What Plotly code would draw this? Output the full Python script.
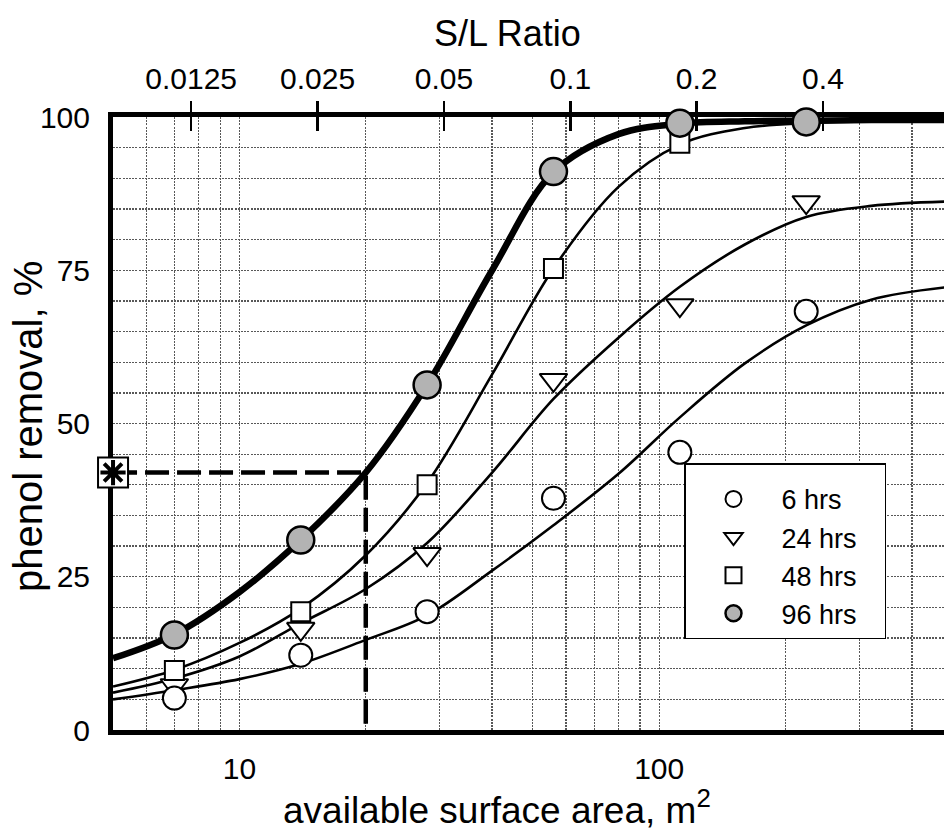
import math
import plotly.graph_objects as go

# ---------------- data ----------------
# available surface area (m^2) at which samples were taken
AREA_POINTS = [7, 14, 28, 56, 112, 224]
AREA_POINTS_48 = [7, 14, 28, 56, 112]

removal_6h = [5.2, 12.2, 19.3, 37.8, 45.3, 68.3]
removal_24h = [7.3, 16.5, 28.7, 57.1, 69.3, 86.1]
removal_48h = [9.7, 19.3, 40.0, 75.3, 95.7]
removal_96h = [15.5, 31.0, 56.3, 91.1, 99.0, 99.2]

# fitted curves
CURVE_AREA = [5, 7, 10, 14, 20, 28, 40, 56, 80, 112, 160, 224, 320, 480]
curve_6h = [5.0, 6.5, 8.3, 10.8, 14.7, 18.7, 26.0, 33.4, 41.8, 51.0, 59.8, 66.0, 70.2, 72.2]
curve_24h = [6.1, 8.4, 12.0, 17.4, 23.0, 30.5, 42.0, 54.0, 64.0, 72.3, 79.2, 83.7, 85.5, 86.2]
curve_48h = [7.1, 9.8, 14.2, 19.8, 28.5, 40.3, 58.0, 75.3, 88.6, 95.5, 98.2, 99.0, 99.3, 99.4]
curve_96h = [11.7, 15.6, 22.5, 31.0, 42.0, 56.3, 75.0, 91.0, 97.2, 98.9, 99.3, 99.4, 99.5, 99.5]

# design point (dashed guide)
TARGET_AREA = 20
TARGET_REMOVAL = 42

# axes
AREA_MIN, AREA_MAX = 5, 477
SL_PER_AREA = 1 / 614.0
SL_TICKS = [0.0125, 0.025, 0.05, 0.1, 0.2, 0.4]
SL_TICK_TEXT = ["0.0125", "0.025", "0.05", "0.1", "0.2", "0.4"]
X_GRID = [6, 7, 8, 9, 10, 20, 30, 40, 50, 60, 70, 80, 90, 100, 200, 300, 400]
X_LABELS = {10: "10", 100: "100"}
Y_TICKS = list(range(0, 101, 5))
Y_LABELS = {0: "0", 25: "25", 50: "50", 75: "75", 100: "100"}

LEGEND_NAMES = ["6 hrs", "24 hrs", "48 hrs", "96 hrs"]

FONT = "Liberation Sans, Arial, Helvetica, sans-serif"
GRID_COLOR = "#585858"
GRID_DASH = "2px,1.2px"
GRAY_FILL = "#b3b3b3"
PAD = "\u00a0\u00a0\u00a0"

fig = go.Figure()

# dashed guide line
fig.add_trace(go.Scatter(
    x=[AREA_MIN, TARGET_AREA, TARGET_AREA], y=[TARGET_REMOVAL, TARGET_REMOVAL, 0],
    mode="lines", line=dict(color="black", width=4.5, dash="24px,8px"),
    showlegend=False, hoverinfo="skip"))

# fitted curves
for ys, w in [(curve_6h, 2.6), (curve_24h, 2.6), (curve_48h, 2.6), (curve_96h, 6.5)]:
    fig.add_trace(go.Scatter(
        x=CURVE_AREA, y=ys, mode="lines",
        line=dict(color="black", width=w, shape="spline", smoothing=1.0),
        showlegend=False, hoverinfo="skip"))

# markers (drawing order: triangles, open circles, squares, gray circles)
fig.add_trace(go.Scatter(
    x=AREA_POINTS, y=removal_24h, mode="markers", name=LEGEND_NAMES[1] + PAD, legendrank=2,
    marker=dict(symbol="triangle-down", size=24, color="white",
                line=dict(color="black", width=2)), cliponaxis=False))
fig.add_trace(go.Scatter(
    x=AREA_POINTS, y=removal_6h, mode="markers", name=LEGEND_NAMES[0] + PAD, legendrank=1,
    marker=dict(symbol="circle", size=23, color="white",
                line=dict(color="black", width=2)), cliponaxis=False))
fig.add_trace(go.Scatter(
    x=AREA_POINTS_48, y=removal_48h, mode="markers", name=LEGEND_NAMES[2] + PAD, legendrank=3,
    marker=dict(symbol="square", size=19, color="white",
                line=dict(color="black", width=2)), cliponaxis=False))
fig.add_trace(go.Scatter(
    x=AREA_POINTS, y=removal_96h, mode="markers", name=LEGEND_NAMES[3] + PAD, legendrank=4,
    marker=dict(symbol="circle", size=27, color=GRAY_FILL,
                line=dict(color="black", width=2.5)), cliponaxis=False))

# boxed asterisk on the y axis at the design removal
fig.add_trace(go.Scatter(
    x=[AREA_MIN], y=[TARGET_REMOVAL], mode="markers",
    marker=dict(symbol="square", size=30, color="white", line=dict(color="black", width=2)),
    showlegend=False, hoverinfo="skip", cliponaxis=False))
fig.add_trace(go.Scatter(
    x=[AREA_MIN], y=[TARGET_REMOVAL], mode="markers",
    marker=dict(symbol="asterisk-open", size=21, color="black",
                line=dict(color="black", width=4)),
    showlegend=False, hoverinfo="skip", cliponaxis=False))

# invisible traces so the top (S/L) axes render
for ax in ["x2", "x3"]:
    fig.add_trace(go.Scatter(
        x=[SL_TICKS[3]], y=[50], xaxis=ax, yaxis="y", mode="markers",
        marker=dict(opacity=0), showlegend=False, hoverinfo="skip"))

EPS = 1e-4  # tiny widening so points lying exactly on the axis edge are kept
x_range = [math.log10(AREA_MIN) - EPS, math.log10(AREA_MAX)]
sl_range = [math.log10(AREA_MIN * SL_PER_AREA) - EPS, math.log10(AREA_MAX * SL_PER_AREA)]

fig.update_layout(
    width=944, height=833,
    margin=dict(l=113, r=0, t=117, b=103, autoexpand=False),
    paper_bgcolor="white", plot_bgcolor="white",
    font=dict(family=FONT, color="black"),
    xaxis=dict(
        type="log", range=x_range, automargin=False,
        tickmode="array", tickvals=X_GRID,
        ticktext=[X_LABELS.get(v, "") for v in X_GRID],
        ticks="outside", ticklen=8, tickcolor="rgba(0,0,0,0)",
        tickfont=dict(size=30, family=FONT),
        showgrid=True, gridcolor=GRID_COLOR, gridwidth=1.3, griddash=GRID_DASH,
        showline=True, linecolor="black", linewidth=5, mirror=True,
        zeroline=False, layer="below traces", fixedrange=True),
    yaxis=dict(
        range=[0, 100], tickmode="array", tickvals=Y_TICKS, automargin=False,
        ticktext=[Y_LABELS.get(v, "") for v in Y_TICKS],
        ticks="", ticklabelstandoff=12,
        tickfont=dict(size=30, family=FONT),
        showgrid=True, gridcolor=GRID_COLOR, gridwidth=1.3, griddash=GRID_DASH,
        showline=True, linecolor="black", linewidth=5, mirror=False,
        zeroline=False, layer="below traces", fixedrange=True),
    xaxis2=dict(
        type="log", range=sl_range, overlaying="x", side="top", anchor="y",
        automargin=False,
        tickmode="array", tickvals=SL_TICKS, ticktext=SL_TICK_TEXT,
        ticks="outside", ticklen=15, tickwidth=2.5, tickcolor="black",
        tickfont=dict(size=30, family=FONT),
        showgrid=False, showline=False, zeroline=False, fixedrange=True),
    xaxis3=dict(
        type="log", range=sl_range, overlaying="x", side="top", anchor="y",
        automargin=False,
        tickmode="array", tickvals=SL_TICKS,
        ticks="inside", ticklen=14, tickwidth=2.5, tickcolor="black",
        showticklabels=False,
        showgrid=False, showline=False, zeroline=False, fixedrange=True),
    legend=dict(
        x=(684 - 113) / 831, y=(730 - 463) / 613, xanchor="left", yanchor="top",
        bgcolor="white", bordercolor="black", borderwidth=1.5,
        font=dict(size=27, family=FONT), itemwidth=86, tracegroupgap=0,
        title=dict(text="\u00a0", font=dict(size=8))),
    annotations=[
        dict(text="S/L Ratio", xref="paper", yref="paper",
             x=(507 - 113) / 831, y=(730 - 33) / 613, xanchor="center", yanchor="middle",
             showarrow=False, font=dict(size=36, family=FONT)),
        dict(text="phenol removal, %", xref="paper", yref="paper", textangle=-90,
             x=(28 - 113) / 831, y=(730 - 427) / 613, xanchor="center", yanchor="middle",
             showarrow=False, font=dict(size=40, family=FONT)),
        dict(text="available surface area, m<sup>2</sup>", xref="paper", yref="paper",
             x=(497 - 113) / 831, y=(730 - 833) / 613, xanchor="center", yanchor="bottom",
             showarrow=False, font=dict(size=37, family=FONT)),
    ],
)

# remove the browser's default 8px page margin so the figure sits at (0, 0)
fig.write_html("out.html",
               config={"displayModeBar": False, "staticPlot": True},
               post_script="document.body.style.margin='0';"
                           "document.body.style.overflow='hidden';")
